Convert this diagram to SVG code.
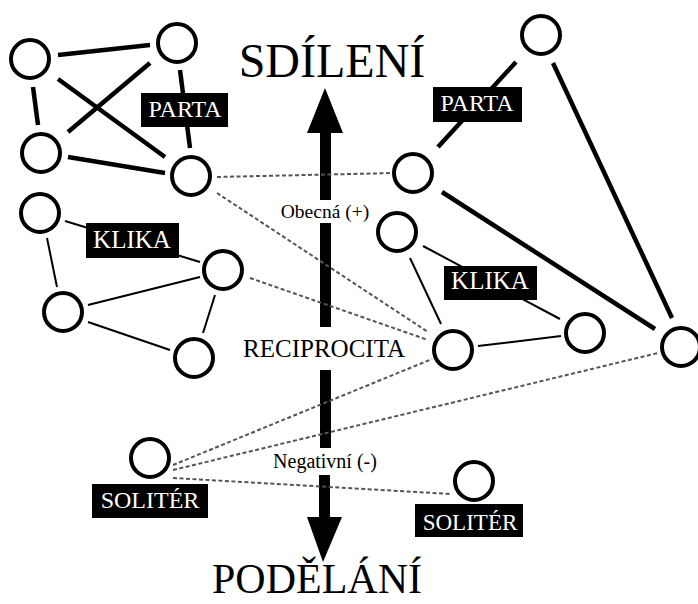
<svg xmlns="http://www.w3.org/2000/svg" width="698" height="604" viewBox="0 0 698 604">
<style>
.n{fill:#fff;stroke:#000;stroke-width:4}
.thick{stroke:#000;stroke-width:4.5;fill:none}
.thin{stroke:#000;stroke-width:2;fill:none}
.dash{stroke:#555;stroke-width:2;stroke-dasharray:4 2.5;fill:none}
.lbl{fill:#000}
.lt{fill:#fff;font-family:"Liberation Serif","Times New Roman",serif;text-anchor:middle}
.t{fill:#000;font-family:"Liberation Serif","Times New Roman",serif;text-anchor:middle}
</style>
<rect width="698" height="604" fill="#fff"/>
<g id="axis">
<polygon points="325,88 343,133 307,133" fill="#000"/>
<rect x="320" y="132" width="11" height="68" fill="#000"/>
<rect x="320" y="223" width="11" height="104" fill="#000"/>
<rect x="320" y="370" width="11" height="78" fill="#000"/>
<rect x="319" y="475" width="11" height="43" fill="#000"/>
<polygon points="307,517 342,517 323,562" fill="#000"/>
<text class="t" x="332" y="77" font-size="48">SDÍLENÍ</text>
<text class="t" x="317" y="593" font-size="43" textLength="210" lengthAdjust="spacingAndGlyphs">PODĚLÁNÍ</text>
<text class="t" x="325" y="218" font-size="19.5">Obecná (+)</text>
<text class="t" x="324" y="357" font-size="25">RECIPROCITA</text>
<text class="t" x="325" y="468" font-size="20">Negativní (-)</text>
</g>
<g id="connectors">
<line class="thick" x1="58" y1="55" x2="150" y2="45"/>
<line class="thick" x1="33" y1="87" x2="38" y2="125"/>
<line class="thick" x1="58" y1="79" x2="165" y2="157"/>
<line class="thick" x1="150" y1="63" x2="68" y2="132"/>
<line class="thick" x1="68" y1="157" x2="165" y2="173"/>
<line class="thick" x1="180" y1="70" x2="190" y2="148"/>
<line class="thin" x1="65" y1="221" x2="200" y2="262"/>
<line class="thin" x1="47" y1="238" x2="57" y2="287"/>
<line class="thin" x1="88" y1="305" x2="200" y2="277"/>
<line class="thin" x1="88" y1="322" x2="170" y2="350"/>
<line class="thin" x1="215" y1="295" x2="203" y2="333"/>
<line class="thick" x1="516" y1="62" x2="438" y2="147"/>
<line class="thick" x1="553" y1="63" x2="672" y2="318"/>
<line class="thick" x1="442" y1="192" x2="655" y2="329"/>
<line class="thin" x1="410" y1="258" x2="441" y2="324"/>
<line class="thin" x1="423" y1="246" x2="560" y2="319"/>
<line class="thin" x1="478" y1="346" x2="561" y2="336"/>
<line class="dash" x1="217" y1="177" x2="395" y2="173"/>
<line class="dash" x1="217" y1="193" x2="428" y2="332"/>
<line class="dash" x1="250" y1="278" x2="428" y2="340"/>
<line class="dash" x1="173" y1="465" x2="432" y2="359"/>
<line class="dash" x1="173" y1="470" x2="658" y2="353"/>
<line class="dash" x1="173" y1="478" x2="450" y2="494"/>
</g>
<g id="parta-left">
<circle id="n-a" class="n" cx="30" cy="59" r="19"/>
<circle id="n-b" class="n" cx="177" cy="43" r="19"/>
<circle id="n-c" class="n" cx="41" cy="153" r="19"/>
<circle id="n-d" class="n" cx="191" cy="176" r="19"/>
<rect class="lbl" x="141" y="93" width="87" height="34"/>
<text class="lt" x="185" y="117" font-size="24">PARTA</text>
</g>
<g id="klika-left">
<circle id="n-e" class="n" cx="40" cy="213" r="19"/>
<circle id="n-f" class="n" cx="223" cy="270" r="19"/>
<circle id="n-g" class="n" cx="63" cy="312" r="19"/>
<circle id="n-h" class="n" cx="194" cy="358" r="19"/>
<rect class="lbl" x="86" y="223" width="93" height="35"/>
<text class="lt" x="132" y="248" font-size="25">KLIKA</text>
</g>
<g id="parta-right">
<circle id="n-i" class="n" cx="541" cy="35" r="19"/>
<circle id="n-j" class="n" cx="413" cy="173" r="19"/>
<circle id="n-k" class="n" cx="681" cy="347" r="19"/>
<rect class="lbl" x="433" y="87" width="89" height="35"/>
<text class="lt" x="477" y="111" font-size="24">PARTA</text>
</g>
<g id="klika-right">
<circle id="n-l" class="n" cx="397" cy="232" r="19"/>
<circle id="n-m" class="n" cx="453" cy="350" r="19"/>
<circle id="n-n" class="n" cx="585" cy="333" r="19"/>
<rect class="lbl" x="444" y="266" width="93" height="34"/>
<text class="lt" x="490" y="289" font-size="25">KLIKA</text>
</g>
<g id="soliter-left">
<circle class="n" cx="150" cy="458" r="19"/>
<rect class="lbl" x="92" y="484" width="116" height="34"/>
<text class="lt" x="150" y="508" font-size="24">SOLITÉR</text>
</g>
<g id="soliter-right">
<circle class="n" cx="474" cy="481" r="19"/>
<rect class="lbl" x="415" y="504" width="108" height="33"/>
<text class="lt" x="470" y="530" font-size="23">SOLITÉR</text>
</g>
</svg>
